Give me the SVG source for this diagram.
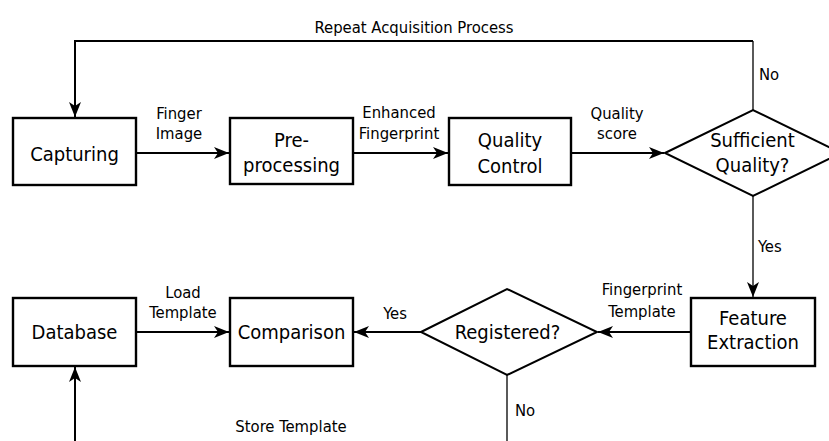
<svg xmlns="http://www.w3.org/2000/svg" width="829" height="441" viewBox="0 0 829 441">
<style>
text{font-family:"DejaVu Sans Condensed","DejaVu Sans","Liberation Sans",sans-serif;font-stretch:condensed;fill:#000}
.n{font-size:20px;text-anchor:middle}
.l{font-size:16.5px;text-anchor:middle}
.ls{font-size:16.5px;text-anchor:start}
.box{fill:#fff;stroke:#000;stroke-width:2.4}
.dia{fill:#fff;stroke:#000;stroke-width:2}
.c{fill:none;stroke:#000;stroke-width:2}
.t{fill:none;stroke:#000;stroke-width:1.3}
</style>
<defs>
<marker id="ah" markerUnits="userSpaceOnUse" markerWidth="16" markerHeight="14" refX="15" refY="7" orient="auto">
<path d="M0,1 L15,7 L0,13 L4,7 z" fill="#000"/>
</marker>
</defs>
<rect width="829" height="441" fill="#fff"/>
<g id="connectors">
<path class="c" d="M753,41 H75 V117" marker-end="url(#ah)"/>
<path class="t" d="M753,110 V41"/>
<path class="c" d="M136,153 H229" marker-end="url(#ah)"/>
<path class="c" d="M353,153 H448" marker-end="url(#ah)"/>
<path class="c" d="M571,153 H664" marker-end="url(#ah)"/>
<path class="t" d="M753,196 V297" marker-end="url(#ah)"/>
<path class="c" d="M690,332 H598" marker-end="url(#ah)"/>
<path class="c" d="M421,332 H354" marker-end="url(#ah)"/>
<path class="c" d="M136,332 H229" marker-end="url(#ah)"/>
<path class="t" d="M507,375 V441"/>
<path class="c" d="M75,441 V367" marker-end="url(#ah)"/>
</g>
<g id="labels">
<text class="l" x="414" y="33">Repeat Acquisition Process</text>
<text class="ls" x="759" y="80">No</text>
<text class="l" x="179" y="119">Finger</text>
<text class="l" x="179" y="139">Image</text>
<text class="l" x="399" y="118">Enhanced</text>
<text class="l" x="399" y="139">Fingerprint</text>
<text class="l" x="617" y="119">Quality</text>
<text class="l" x="617" y="139">score</text>
<text class="ls" x="758" y="252">Yes</text>
<text class="l" x="642" y="295">Fingerprint</text>
<text class="l" x="642" y="317">Template</text>
<text class="l" x="395" y="319">Yes</text>
<text class="l" x="183" y="298">Load</text>
<text class="l" x="183" y="318">Template</text>
<text class="ls" x="515" y="416">No</text>
<text class="l" x="291" y="432">Store Template</text>
</g>
<g id="capturing">
<rect class="box" x="13" y="118" width="123" height="67"/>
<text class="n" x="74.5" y="161">Capturing</text>
</g>
<g id="preprocessing">
<rect class="box" x="230" y="118" width="123" height="66"/>
<text class="n" x="291.5" y="147">Pre-</text>
<text class="n" x="291.5" y="172">processing</text>
</g>
<g id="quality-control">
<rect class="box" x="449" y="118" width="122" height="67"/>
<text class="n" x="510" y="147">Quality</text>
<text class="n" x="510" y="173">Control</text>
</g>
<g id="sufficient-quality">
<polygon class="dia" points="665,153 753,110 841,153 753,196"/>
<text class="n" x="752.5" y="147">Sufficient</text>
<text class="n" x="752.5" y="172">Quality?</text>
</g>
<g id="feature-extraction">
<rect class="box" x="691" y="298" width="124" height="68"/>
<text class="n" x="753" y="325">Feature</text>
<text class="n" x="753" y="349">Extraction</text>
</g>
<g id="registered">
<polygon class="dia" points="421,332 507,289 597,332 507,375"/>
<text class="n" x="507.5" y="339">Registered?</text>
</g>
<g id="comparison">
<rect class="box" x="230" y="298" width="123" height="68"/>
<text class="n" x="291.5" y="339">Comparison</text>
</g>
<g id="database">
<rect class="box" x="13" y="298" width="123" height="68"/>
<text class="n" x="74.5" y="339">Database</text>
</g>
</svg>
